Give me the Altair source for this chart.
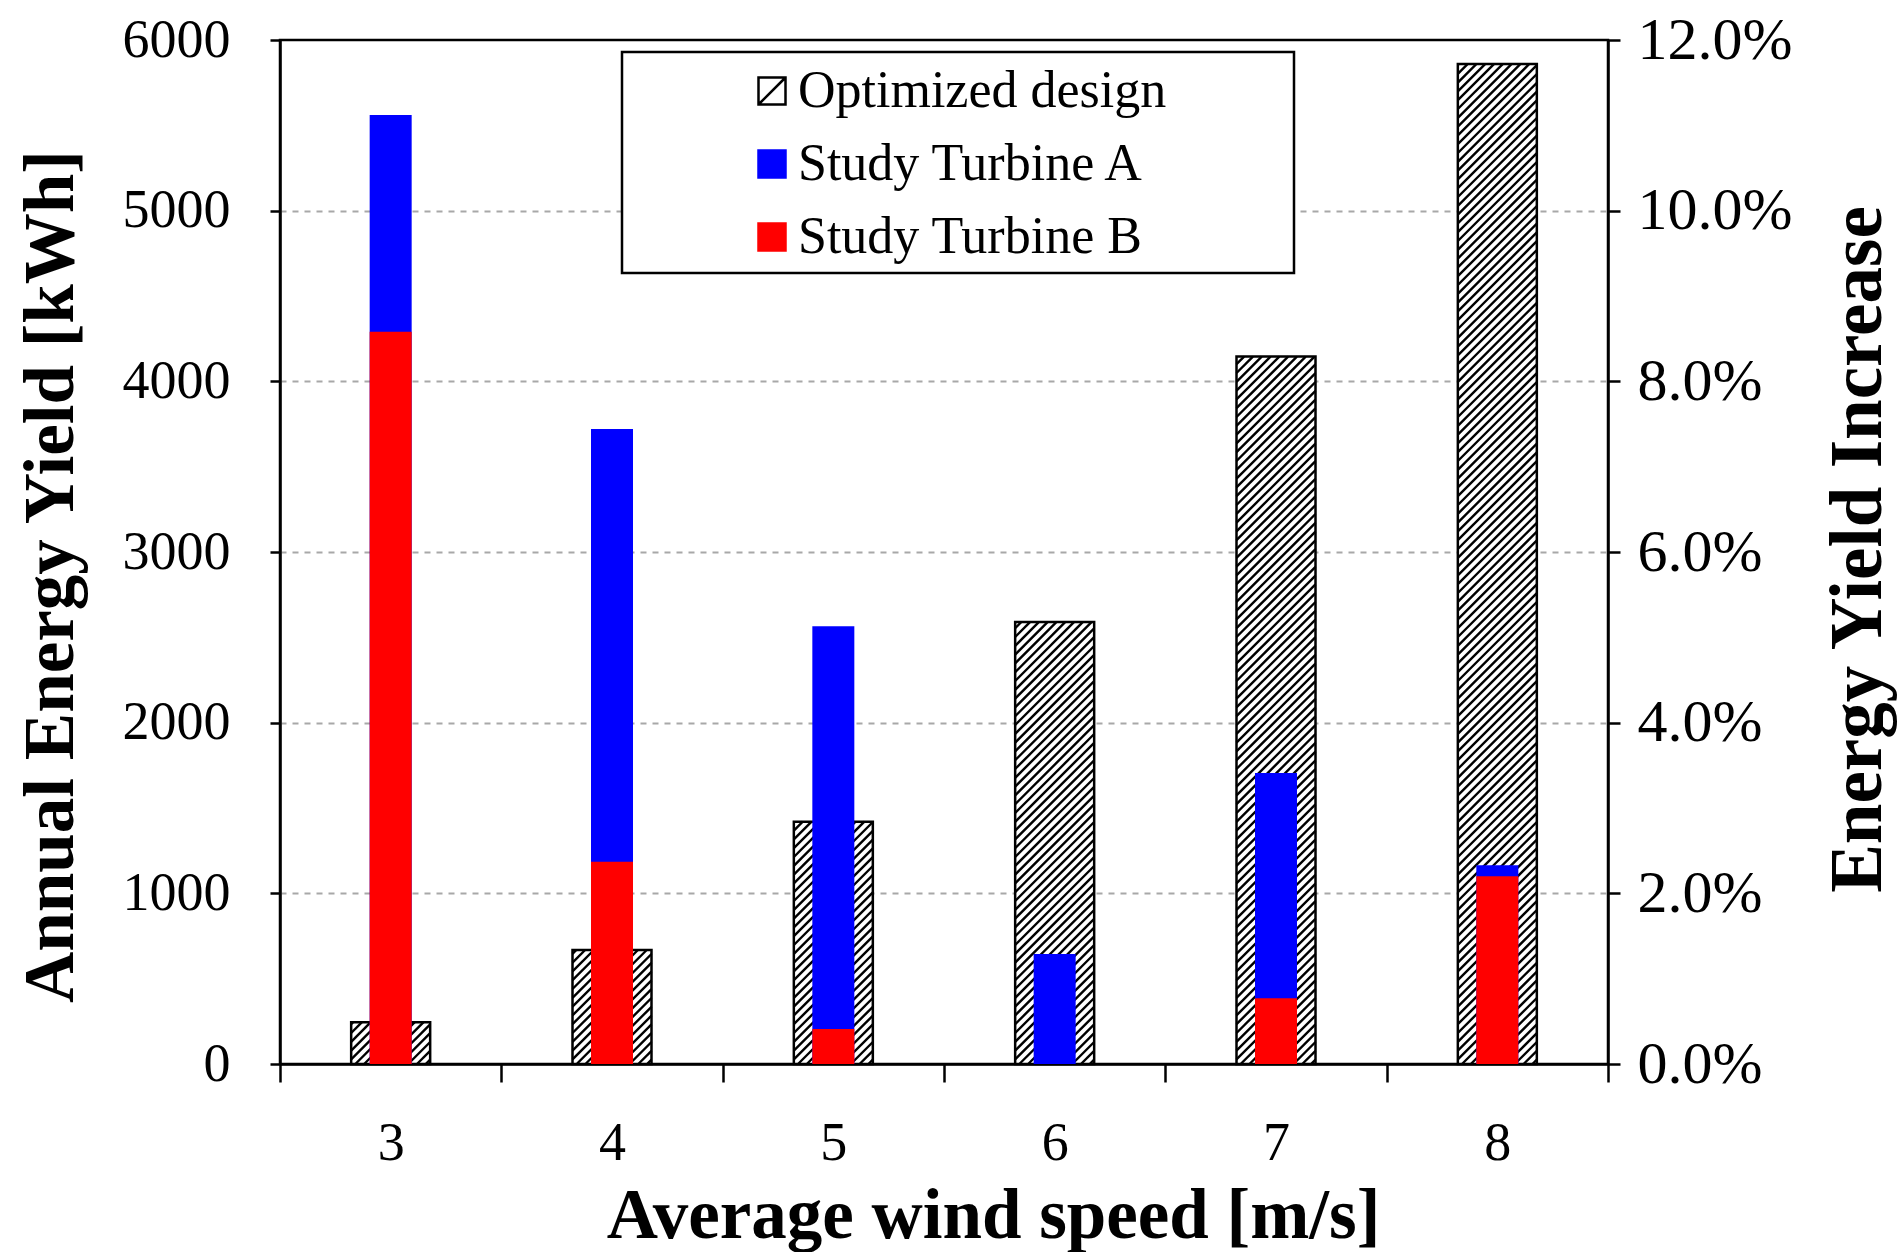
import altair as alt
import pandas as pd

# ---- data -------------------------------------------------------------
speeds = [3, 4, 5, 6, 7, 8]                                   # average wind speed [m/s]
optimized_kwh = [245, 668, 1420, 2590, 4145, 5860]            # annual energy yield [kWh]
turbine_a_pct = [11.12, 7.44, 5.13, 1.29, 3.41, 2.33]         # energy yield increase [%]
turbine_b_pct = [8.58, 2.37, 0.41, 0.0, 0.77, 2.20]           # energy yield increase [%]
series_names = ["Optimized design", "Study Turbine A", "Study Turbine B"]
kwh_ticks = [0, 1000, 2000, 3000, 4000, 5000, 6000]
pct_ticks = [0, 2, 4, 6, 8, 10, 12]

# ---- layout / style ---------------------------------------------------
PLOT_W, PLOT_H = 1328, 1024
KWH_MAX, PCT_MAX = 6000, 12
WIDE_BAR, NARROW_BAR = 79, 42
HATCH_STEP = 8.8          # vertical distance between hatch lines, px
FONT = "Liberation Serif"
BLUE, RED = "#0000ff", "#ff0000"
HATCH_SYMBOL = "M-1,-1H1V1H-1Z M-1,1L1,-1"

opt_df = pd.DataFrame({"speed": speeds, "kwh": optimized_kwh})
inc_df = pd.DataFrame({"speed": speeds, "a": turbine_a_pct, "b": turbine_b_pct})
legend_df = pd.DataFrame({"series": series_names})

# diagonal hatch segments clipped to each optimized-design bar
px_per_speed = PLOT_W / len(speeds)
px_per_kwh = PLOT_H / KWH_MAX
hatch_rows = []
for s, v in zip(speeds, optimized_kwh):
    h = v * px_per_kwh
    left = s - (WIDE_BAR / 2) / px_per_speed
    c = -WIDE_BAR + HATCH_STEP / 2
    while c < h:
        x0 = max(0.0, -c)
        x1 = min(float(WIDE_BAR), h - c)
        if x1 > x0:
            hatch_rows.append({
                "sx": left + x0 / px_per_speed,
                "sx2": left + x1 / px_per_speed,
                "ky": (x0 + c) / px_per_kwh,
                "ky2": (x1 + c) / px_per_kwh,
            })
        c += HATCH_STEP
hatch_df = pd.DataFrame(hatch_rows)

band_scale = alt.Scale(domain=speeds, paddingInner=0, paddingOuter=0)
kwh_scale = alt.Scale(domain=[0, KWH_MAX], nice=False, zero=True)
pct_scale = alt.Scale(domain=[0, PCT_MAX], nice=False, zero=True)
speed_lin = alt.Scale(domain=[speeds[0] - 0.5, speeds[-1] + 0.5], nice=False, zero=False)

x_axis = alt.Axis(
    title="Average wind speed [m/s]", tickBand="extent", labelAngle=0,
    labelFontSize=54, labelPadding=34, tickSize=18, tickWidth=2.5,
    titleFontSize=71, titleX=713, titleY=152, titleAlign="center",
    titleBaseline="middle",
)
left_axis = alt.Axis(
    orient="left", title="Annual Energy Yield [kWh]", values=kwh_ticks,
    format="d", labelFontSize=54, labelPadding=40, tickSize=10, tickWidth=2.5,
    grid=True, gridDash=[6, 6], gridColor="#a8a8a8", gridWidth=2,
    gridOpacity={"condition": {"test": "datum.value <= 0 || datum.value >= 6000", "value": 0},
                 "value": 1},
    titleFontSize=71, titleAngle=270, titleX=-229, titleY=536,
    titleAlign="center", titleBaseline="middle",
)
right_axis = alt.Axis(
    orient="right", title="Energy Yield Increase", values=pct_ticks,
    labelExpr="format(datum.value, '.1f') + '%'", labelFontSize=60,
    labelPadding=17, tickSize=12, tickWidth=2.5, grid=False,
    titleFontSize=73, titleAngle=270, titleX=250, titleY=509,
    titleAlign="center", titleBaseline="middle",
)

# optimized design: white body, hatch, then outline
opt_body = alt.Chart(opt_df).mark_bar(width=WIDE_BAR, fill="white").encode(
    x=alt.X("speed:O", scale=band_scale, axis=x_axis),
    y=alt.Y("kwh:Q", scale=kwh_scale, axis=left_axis),
)
hatch = alt.Chart(hatch_df).mark_rule(color="black", strokeWidth=2.4).encode(
    x=alt.X("sx:Q", scale=speed_lin, axis=None),
    x2="sx2",
    y=alt.Y("ky:Q", scale=kwh_scale, axis=None),
    y2="ky2",
)
opt_outline = alt.Chart(opt_df).mark_bar(
    width=WIDE_BAR, fillOpacity=0, stroke="black", strokeWidth=2.5
).encode(
    x=alt.X("speed:O", scale=band_scale, axis=None),
    y=alt.Y("kwh:Q", scale=kwh_scale, axis=None),
)

# study turbines on the percentage axis
bars_a = alt.Chart(inc_df).mark_bar(width=NARROW_BAR, color=BLUE).encode(
    x=alt.X("speed:O", scale=band_scale, axis=None),
    y=alt.Y("a:Q", scale=pct_scale, axis=right_axis),
)
bars_b = alt.Chart(inc_df).mark_bar(width=NARROW_BAR, color=RED).encode(
    x=alt.X("speed:O", scale=band_scale, axis=None),
    y=alt.Y("b:Q", scale=pct_scale, axis=None),
)

# legend frame and entries
legend_box = alt.Chart(pd.DataFrame({"frame": [0]})).mark_rect(
    fill="white", stroke="black", strokeWidth=2.5
).encode(x=alt.value(342), x2=alt.value(1014), y=alt.value(12), y2=alt.value(233))

legend_cfg = dict(
    orient="none", legendX=466, legendY=25, title=None, labelFont=FONT,
    labelFontSize=52, labelColor="black", labelLimit=0, symbolSize=729,
    symbolStrokeWidth=2.5, symbolOpacity=1, rowPadding=21, labelOffset=0,
    padding=0, direction="vertical",
)
legend_layer = alt.Chart(legend_df).mark_point(filled=True, opacity=1).encode(
    fill=alt.Fill("series:N", scale=alt.Scale(domain=series_names, range=["white", BLUE, RED]),
                  legend=alt.Legend(**legend_cfg)),
    stroke=alt.Stroke("series:N", scale=alt.Scale(domain=series_names, range=["black", BLUE, RED]),
                      legend=alt.Legend(**legend_cfg)),
    shape=alt.Shape("series:N", scale=alt.Scale(domain=series_names, range=[HATCH_SYMBOL, "square", "square"]),
                    legend=alt.Legend(**legend_cfg)),
).transform_filter("false")

chart = (
    alt.layer(opt_body, hatch, opt_outline, bars_a, bars_b, legend_box, legend_layer)
    .resolve_scale(x="independent", y="independent")
    .properties(
        width=PLOT_W, height=PLOT_H,
        autosize=alt.AutoSizeParams(type="none"),
        padding={"left": 280, "top": 40, "right": 294, "bottom": 188},
        background="white",
    )
    .configure_view(stroke="black", strokeWidth=2.5)
    .configure_axis(
        labelFont=FONT, titleFont=FONT, labelColor="black", titleColor="black",
        titleFontWeight="bold", domainColor="black", domainWidth=2.5,
        tickColor="black", labelOverlap=False,
    )
)

chart.save("out.html", embed_options={"renderer": "svg", "actions": False})
